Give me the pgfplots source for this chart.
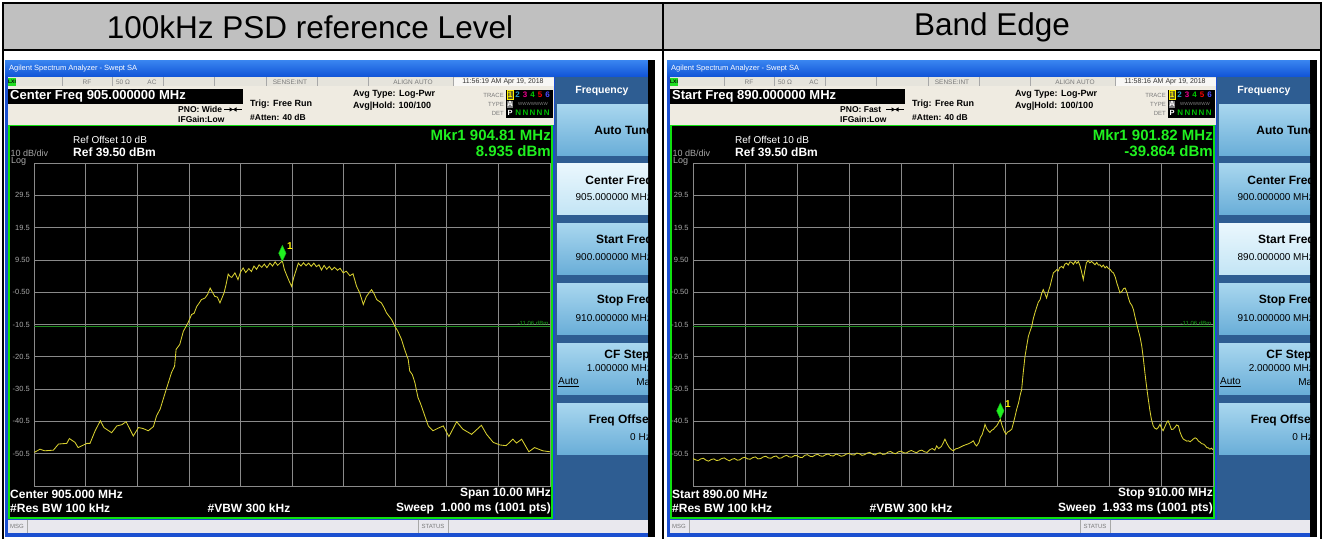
\documentclass[border=0pt]{standalone}
\usepackage{pgfplots}
\pgfplotsset{compat=1.18}
\usepackage{fontspec}
\setmainfont{Liberation Sans}

\definecolor{hdrgray}{HTML}{C0C0C0}
\definecolor{winblue}{HTML}{1B4FD0}
\definecolor{titletop}{HTML}{3A86F0}
\definecolor{titlebot}{HTML}{1256D8}
\definecolor{statgray}{HTML}{E6E4DC}
\definecolor{infobg}{HTML}{EFEBE1}
\definecolor{sepgray}{HTML}{A8A8A8}
\definecolor{txtgray}{HTML}{7A7A7A}
\definecolor{lxgreen}{HTML}{22DD22}
\definecolor{dispgreen}{HTML}{10E010}
\definecolor{mkgreen}{HTML}{20F020}
\definecolor{lblgray}{HTML}{A8A8A8}
\definecolor{gridgray}{HTML}{8A8A8A}
\definecolor{tracey}{HTML}{D8D030}
\definecolor{dline}{HTML}{1E8C1E}
\definecolor{skbg}{HTML}{2E5D92}
\definecolor{sktop}{HTML}{A9D7EF}
\definecolor{skbot}{HTML}{6AAED8}
\definecolor{hitop}{HTML}{EAF7FD}
\definecolor{hibot}{HTML}{C4E5F5}
\definecolor{msgbg}{HTML}{E9E8EE}

\newcommand\fs[1]{\fontsize{#1}{#1}\selectfont}

\tikzset{nkey/.style={top color=sktop,bottom color=skbot},
         hikey/.style={top color=hitop,bottom color=hibot}}

% #1 box text, #2 PNO, #3 time, #4 mkr freq, #5 mkr val, #6 bottom-left, #7 bottom-right, #8 sweep, #9 unused
\newcommand\screen[9]{%
  \fill[winblue] (5,60) rectangle (648,537);
  \shade[top color=titletop,bottom color=titlebot] (5,60) rectangle (648,76);
  \node[anchor=west,text=white,font=\fs{7.5}] at (9,68.5) {Agilent Spectrum Analyzer - Swept SA};
  \fill[black] (648,60) rectangle (655,537);
  % status row
  \fill[statgray] (7.5,77) rectangle (554,86);
  \foreach \sx in {62,112,163,214,266,317,368,453}{\draw[sepgray,line width=0.6pt] (\sx,77)--(\sx,86);}
  \fill[white!70!statgray] (453.5,77.5) rectangle (553.5,86);
  \fill[lxgreen] (8,78) rectangle (16,85.5);
  \node[font=\fs{5}\bfseries] at (12,81.8) {LXI};
  \node[text=txtgray,font=\fs{6.5}] at (87,81.8) {RF};
  \node[text=txtgray,font=\fs{6.5}] at (123,81.8) {50 Ω};
  \node[text=txtgray,font=\fs{6.5}] at (152,81.8) {AC};
  \node[text=txtgray,font=\fs{6.5}] at (290,81.8) {SENSE:INT};
  \node[text=txtgray,font=\fs{6.5}] at (413,81.8) {ALIGN AUTO};
  \node[text=black!80,font=\fs{7}] at (503,81.8) {#3};
  % info area
  \fill[infobg] (7.5,86) rectangle (554,124.5);
  \fill[black] (8,89) rectangle (243,104);
  \node[anchor=west,text=white,font=\fs{13}\bfseries] at (10,96.5) {#1};
  \node[anchor=west,font=\fs{8.5}\bfseries] at (178,109.5) {#2};
  \draw[line width=0.6pt] (224,109.5)--(242,109.5);
  \fill (229.5,107.3)--(233,109.5)--(229.5,111.7)--cycle;
  \fill (236.5,107.3)--(233,109.5)--(236.5,111.7)--cycle;
  \node[anchor=west,font=\fs{8.5}\bfseries] at (178,119) {IFGain:Low};
  \node[anchor=west,font=\fs{9}\bfseries] at (250,104) {Trig: Free Run};
  \node[anchor=west,font=\fs{8.5}\bfseries] at (250,117) {\#Atten: 40 dB};
  \node[anchor=west,font=\fs{9}\bfseries] at (353,94.5) {Avg Type: Log-Pwr};
  \node[anchor=west,font=\fs{9}\bfseries] at (353,106) {Avg\textbar Hold: 100/100};
  % trace box
  \node[anchor=east,text=txtgray,font=\fs{6}] at (504,95) {TRACE};
  \node[anchor=east,text=txtgray,font=\fs{6}] at (504,104) {TYPE};
  \node[anchor=east,text=txtgray,font=\fs{6}] at (504,113) {DET};
  \fill[black] (506,89.5) rectangle (553,118);
  \fill[olive!60!black] (507,90.5) rectangle (513,99.5);
  \draw[yellow,line width=0.5pt] (507,90.5) rectangle (513,99.5);
  \node[text=yellow,font=\fs{8}\bfseries] at (510,95) {1};
  \node[text=cyan!80!black,font=\fs{8}\bfseries] at (517.5,95) {2};
  \node[text=magenta,font=\fs{8}\bfseries] at (525,95) {3};
  \node[text=green!80!black,font=\fs{8}\bfseries] at (532.5,95) {4};
  \node[text=red,font=\fs{8}\bfseries] at (540,95) {5};
  \node[text=blue!70!white,font=\fs{8}\bfseries] at (547.5,95) {6};
  \fill[gray] (507,100.5) rectangle (513,108);
  \node[text=white,font=\fs{7.5}\bfseries] at (510,104.3) {A};
  \node[text=gray,font=\fs{4.5}] at (533,104) {WWWWWWW};
  \node[text=white,font=\fs{7.5}\bfseries] at (510,113) {P};
  \node[text=green!75!black,font=\fs{8}\bfseries] at (532.5,113) {N\,N\,N\,N\,N};
  % display
  \fill[black] (8,124.5) rectangle (553,518.5);
  \draw[dispgreen,line width=1.6pt] (8.8,125.3) rectangle (552.2,517.7);
  \node[anchor=west,text=white,font=\fs{10}] at (73,140) {Ref Offset 10 dB};
  \node[anchor=west,text=white,font=\fs{12}\bfseries] at (73,152.5) {Ref 39.50 dBm};
  \node[anchor=west,text=lblgray,font=\fs{9}] at (10.5,153) {10 dB/div};
  \node[anchor=west,text=lblgray,font=\fs{9}] at (11,161) {Log};
  \node[anchor=east,text=mkgreen,font=\fs{15}\bfseries] at (551,135) {#4};
  \node[anchor=east,text=mkgreen,font=\fs{15}\bfseries] at (551,151) {#5};
  \node[anchor=west,text=white,font=\fs{12}\bfseries] at (10,494) {#6};
  \node[anchor=west,text=white,font=\fs{12}\bfseries] at (10,508.5) {\#Res BW 100 kHz};
  \node[text=white,font=\fs{12}\bfseries] at (249,508.5) {\#VBW 300 kHz};
  \node[anchor=east,text=white,font=\fs{12}\bfseries] at (551,494) {#7};
  \node[anchor=east,text=white,font=\fs{12}\bfseries] at (551,508.5) {#8};
  % msg bar
  \fill[msgbg] (7.5,519.5) rectangle (648,533);
  \draw[sepgray,line width=0.6pt] (27,519.5)--(27,533) (418,519.5)--(418,533) (448,519.5)--(448,533);
  \node[text=txtgray,font=\fs{6}] at (17,526.3) {MSG};
  \node[text=txtgray,font=\fs{6}] at (433,526.3) {STATUS};
  % softkeys
  \fill[skbg] (555,77) rectangle (648,519.5);
  \node[text=white,font=\fs{10.5}\bfseries] at (602,90.5) {Frequency};
  \begin{scope}
    \clip (555,77) rectangle (648,519.5);
    \shade[nkey] (557,104) rectangle (660,155);
    \node[anchor=east,font=\fs{12}\bfseries] at (653,130) {Auto Tune};
    \shade[keyC] (557,163) rectangle (660,214);
    \node[anchor=east,font=\fs{12}\bfseries] at (653,181.5) {Center Freq};
    \node[anchor=east,font=\fs{10}] at (652,197.5) {\vC};
    \shade[keyS] (557,223) rectangle (660,274);
    \node[anchor=east,font=\fs{12}\bfseries] at (653,241) {Start Freq};
    \node[anchor=east,font=\fs{10}] at (652,257.5) {\vS};
    \shade[nkey] (557,283) rectangle (660,334);
    \node[anchor=east,font=\fs{12}\bfseries] at (653,301) {Stop Freq};
    \node[anchor=east,font=\fs{10}] at (652,318) {\vP};
    \shade[nkey] (557,343) rectangle (660,394);
    \node[anchor=east,font=\fs{12}\bfseries] at (650,356) {CF Step};
    \node[anchor=east,font=\fs{10}] at (652,368.5) {\vF};
    \node[anchor=west,font=\fs{10}] at (558,382) {\underline{Auto}};
    \node[anchor=east,font=\fs{10}] at (656,382) {Man};
    \shade[nkey] (557,403) rectangle (660,454);
    \node[anchor=east,font=\fs{12}\bfseries] at (653,420) {Freq Offset};
    \node[anchor=east,font=\fs{10}] at (651,437) {0 Hz};
  \end{scope}
}

\pgfplotsset{
  saaxis/.style={
    anchor=south west, scale only axis, height=323pt,
    ymin=-60.5, ymax=39.5,
    ytick={-50.5,-40.5,-30.5,-20.5,-10.5,-0.5,9.5,19.5,29.5},
    yticklabels={-50.5,-40.5,-30.5,-20.5,-10.5,-0.50,9.50,19.5,29.5},
    xticklabels={},
    grid=major,
    major grid style={gridgray,line width=0.8pt},
    axis line style={gridgray,line width=0.9pt},
    major tick length=0pt,
    yticklabel style={font=\fs{7.5},text=lblgray,xshift=-1pt},
    clip=true,
  },
  trace/.style={tracey,line width=0.85pt,no markers},
  mkr/.style={only marks,mark=diamond*,mark size=8pt,
     mark options={xscale=0.62,yshift=8.5pt,fill=mkgreen,draw=mkgreen!70!black,line width=0.4pt}},
  dl/.style={dline,line width=0.9pt,no markers},
}

\begin{document}
\begin{tikzpicture}
\begin{scope}[x=1pt,y=-1pt,every node/.style={inner sep=0pt}]
  \fill[white] (0,0) rectangle (1324,539);
  \fill[hdrgray] (3,3) rectangle (1321,49.5);
  \draw[black,line width=2pt] (3,3)--(1321,3) (3,49.5)--(1321,49.5);
  \draw[black,line width=2pt] (3,2)--(3,539) (663,2)--(663,539) (1321,2)--(1321,539);
  \node[font=\fs{31.5}] at (310,27) {100kHz PSD reference Level};
  \node[font=\fs{31.5}] at (992,27) {Band Edge};
  % left screen
  \tikzset{keyC/.style=hikey,keyS/.style=nkey}
  \def\vC{905.000000 MHz}\def\vS{900.000000 MHz}\def\vP{910.000000 MHz}\def\vF{1.000000 MHz}
  \screen{Center Freq 905.000000 MHz}{PNO: Wide}{11:56:19 AM Apr 19, 2018}{Mkr1 904.81 MHz}{8.935 dBm}{Center 905.000 MHz}{Span 10.00 MHz}{Sweep\ \ 1.000 ms (1001 pts)}{}
\end{scope}
\begin{scope}[x=1pt,y=-1pt,xshift=662pt,every node/.style={inner sep=0pt}]
  \tikzset{keyC/.style=nkey,keyS/.style=hikey}
  \def\vC{900.000000 MHz}\def\vS{890.000000 MHz}\def\vP{910.000000 MHz}\def\vF{2.000000 MHz}
  \screen{Start Freq 890.000000 MHz}{PNO: Fast}{11:58:16 AM Apr 19, 2018}{Mkr1 901.82 MHz}{-39.864 dBm}{Start 890.00 MHz}{Stop 910.00 MHz}{Sweep\ \ 1.933 ms (1001 pts)}{}
\end{scope}

% ---------- left analyzer trace ----------
\begin{axis}[saaxis, at={(34.3pt,-486pt)}, width=515.7pt,
  xmin=900, xmax=910, xtick={900,901,...,910}]
\addplot[dl] coordinates {(900,-11.06) (910,-11.06)};
\node[anchor=south east,text=dline!80!green,font=\fs{6},inner sep=0.5pt] at (axis cs:909.98,-11.06) {-11.06 dBm};
\addplot[trace] coordinates {
(900.00,-50.1) (900.11,-49.1) (900.20,-49.6) (900.37,-49.4) (900.47,-47.5) (900.63,-47.3)
(900.68,-45.8) (900.79,-47.0) (900.85,-48.6) (901.02,-47.3) (901.08,-47.3) (901.18,-43.4)
(901.28,-40.3) (901.35,-42.4) (901.50,-44.0) (901.60,-41.9) (901.70,-41.5) (901.78,-40.6)
(901.92,-45.0) (902.02,-42.4) (902.11,-42.7) (902.21,-43.4) (902.31,-42.1) (902.37,-38.8)
(902.44,-36.7) (902.50,-33.6) (902.55,-31.0) (902.60,-28.5) (902.66,-25.4) (902.72,-23.4)
(902.75,-18.2) (902.82,-16.7) (902.89,-12.6) (902.98,-10.0) (903.05,-7.4) (903.10,-7.0)
(903.15,-4.9) (903.20,-3.8) (903.24,-2.8) (903.31,-2.3) (903.36,-1.2) (903.41,0.8)
(903.45,-0.4) (903.50,-1.8) (903.55,-2.0) (903.60,-3.8) (903.68,-0.7) (903.72,2.0)
(903.76,5.1) (903.80,4.3) (903.83,4.1) (903.89,5.5) (903.95,3.4) (904.00,5.8)
(904.05,7.0) (904.10,5.6) (904.16,6.8) (904.21,5.9) (904.26,7.6) (904.31,6.6)
(904.36,8.0) (904.41,7.2) (904.46,8.2) (904.51,7.1) (904.57,8.5) (904.62,7.6)
(904.67,8.9) (904.72,7.8) (904.77,8.6) (904.81,9.2) (904.85,6.5) (904.89,4.9)
(904.94,3.0) (904.99,1.3) (905.03,4.0) (905.08,6.5) (905.12,8.5) (905.17,7.6)
(905.22,8.6) (905.27,7.7) (905.32,8.5) (905.37,7.5) (905.42,8.5) (905.47,7.4)
(905.52,8.0) (905.57,6.4) (905.62,7.8) (905.67,6.6) (905.72,7.5) (905.77,6.4)
(905.82,7.2) (905.88,6.3) (905.93,6.9) (905.99,5.5) (906.05,6.0) (906.12,4.6)
(906.18,5.2) (906.25,1.3) (906.31,-0.7) (906.38,-4.3) (906.44,-1.8) (906.54,0.3)
(906.59,-1.0) (906.64,-2.8) (906.73,-3.8) (906.78,-5.2) (906.83,-6.9) (906.93,-9.0)
(906.99,-11.0) (907.05,-12.6) (907.12,-15.1) (907.18,-18.2) (907.25,-21.3) (907.28,-24.9)
(907.33,-26.0) (907.38,-28.5) (907.44,-33.1) (907.49,-35.0) (907.54,-37.3) (907.64,-41.9)
(907.73,-43.4) (907.83,-42.6) (907.93,-41.9) (908.04,-45.2) (908.19,-40.6) (908.31,-42.9)
(908.48,-44.5) (908.67,-41.7) (908.77,-44.5) (908.90,-47.0) (909.03,-47.8) (909.15,-48.0)
(909.28,-46.0) (909.35,-47.2) (909.45,-46.0) (909.59,-49.9) (909.70,-48.6) (909.86,-49.6)
(910.00,-49.9)};
\addplot[mkr] coordinates {(904.81,8.935)};
\node[anchor=south west,text=yellow,font=\fs{10}\bfseries,inner sep=0pt] at (axis cs:904.81,8.935) [xshift=4.5pt,yshift=12pt] {1};
\end{axis}

% ---------- right analyzer trace ----------
\begin{axis}[saaxis, at={(693pt,-486pt)}, width=520pt,
  xmin=890, xmax=910, xtick={890,892,...,910}]
\addplot[dl] coordinates {(890,-11.06) (910,-11.06)};
\node[anchor=south east,text=dline!80!green,font=\fs{6},inner sep=0.5pt] at (axis cs:909.96,-11.06) {-11.06 dBm};
\addplot[trace] coordinates {
(890.0,-52.0) (890.1,-52.4) (890.2,-52.6) (890.3,-52.1) (890.4,-51.9) (890.5,-52.5) (890.6,-52.8)
(890.7,-52.3) (890.8,-52.1) (890.9,-52.6) (891.0,-52.5) (891.1,-52.0) (891.2,-51.8) (891.3,-52.3)
(891.4,-52.7) (891.5,-52.2) (891.6,-52.0) (891.7,-52.5) (891.8,-52.4) (891.9,-51.8) (892.0,-51.6)
(892.1,-52.1) (892.2,-52.2) (892.3,-51.7) (892.4,-51.5) (892.5,-52.1) (892.6,-52.0) (892.7,-51.5)
(892.8,-51.3) (892.9,-51.8) (893.0,-51.9) (893.1,-51.4) (893.2,-51.2) (893.3,-51.9) (893.4,-51.8)
(893.5,-51.3) (893.6,-51.0) (893.7,-51.5) (893.8,-51.6) (893.9,-51.1) (894.0,-51.1) (894.1,-51.6)
(894.2,-51.7) (894.3,-51.0) (894.4,-50.8) (894.5,-51.3) (894.6,-51.4) (894.7,-50.9) (894.8,-50.7)
(894.9,-51.2) (895.0,-51.3) (895.1,-50.8) (895.2,-50.6) (895.3,-51.1) (895.4,-51.2) (895.5,-50.6)
(895.6,-50.9) (895.7,-51.3) (895.8,-51.1) (895.9,-50.6) (896.0,-50.4) (896.1,-50.8) (896.2,-50.9)
(896.3,-50.3) (896.4,-50.5) (896.5,-51.0) (896.6,-50.8) (896.7,-50.3) (896.8,-50.1) (896.9,-50.6)
(897.0,-50.9) (897.1,-50.4) (897.2,-50.2) (897.3,-50.7) (897.4,-50.6) (897.5,-50.0) (897.6,-49.8)
(897.7,-50.3) (897.8,-50.5) (897.9,-49.9) (898.0,-49.7) (898.1,-50.2) (898.2,-50.3) (898.3,-49.8)
(898.4,-49.5) (898.5,-49.9) (898.6,-50.2) (898.7,-49.6) (898.8,-49.4) (898.9,-49.9) (899.0,-50.1)
(899.1,-49.3) (899.2,-48.9) (899.3,-49.4) (899.37,-48.1) (899.45,-48.9) (899.55,-48.3) (899.62,-47.2)
(899.69,-46.0) (899.77,-47.4) (899.85,-48.5) (899.93,-49.2) (900.01,-49.6) (900.1,-49.0) (900.2,-48.8)
(900.3,-48.4) (900.4,-48.0) (900.5,-47.7) (900.6,-47.4) (900.7,-47.0) (900.78,-46.5) (900.85,-47.6)
(900.91,-48.1) (901.0,-47.0) (901.05,-45.5) (901.12,-44.6) (901.18,-43.0) (901.23,-41.4) (901.30,-42.8)
(901.36,-43.4) (901.42,-43.9) (901.49,-43.2) (901.55,-43.0) (901.62,-42.3) (901.68,-41.9) (901.75,-40.9)
(901.82,-39.864) (901.88,-41.6) (901.96,-43.4) (902.04,-44.5) (902.10,-43.8) (902.15,-43.6) (902.20,-43.3)
(902.26,-42.9) (902.33,-40.8) (902.39,-38.8) (902.45,-36.7) (902.52,-34.8) (902.58,-32.5) (902.64,-30.6)
(902.70,-25.5) (902.77,-20.3) (902.84,-16.9) (902.90,-14.1) (902.97,-12.4) (903.03,-11.0) (903.09,-8.6)
(903.15,-6.9) (903.22,-5.1) (903.28,-3.6) (903.35,-2.8) (903.41,-0.9) (903.47,0.3) (903.53,-0.8)
(903.60,-2.3) (903.66,-0.4) (903.73,1.3) (903.79,3.2) (903.86,5.5) (903.92,5.9) (903.99,6.5)
(904.05,6.1) (904.10,7.1) (904.18,7.5) (904.24,7.0) (904.30,8.2) (904.37,8.5) (904.43,7.9)
(904.50,8.9) (904.57,8.7) (904.63,8.1) (904.70,9.1) (904.76,8.4) (904.82,9.0) (904.88,7.8)
(904.94,6.0) (905.01,3.4) (905.07,6.2) (905.13,8.6) (905.20,9.3) (905.26,8.6) (905.33,9.0)
(905.40,8.5) (905.46,8.0) (905.53,8.7) (905.59,7.9) (905.65,8.0) (905.72,7.3) (905.78,7.9)
(905.85,7.0) (905.91,7.5) (905.98,6.8) (906.05,6.5) (906.11,5.8) (906.17,5.5) (906.24,4.2)
(906.30,2.4) (906.36,0.9) (906.42,-0.7) (906.50,-0.2) (906.56,0.6) (906.62,0.8) (906.69,-0.6)
(906.75,-2.4) (906.81,-3.8) (906.88,-4.6) (906.94,-5.9) (907.00,-8.1) (907.07,-10.5) (907.13,-12.4)
(907.20,-14.6) (907.26,-17.2) (907.32,-21.0) (907.38,-25.4) (907.44,-29.4) (907.51,-33.6) (907.57,-37.0)
(907.63,-39.8) (907.70,-41.9) (907.76,-42.6) (907.83,-42.9) (907.90,-42.3) (907.96,-41.4) (908.02,-42.6)
(908.08,-43.4) (908.15,-42.1) (908.21,-41.0) (908.27,-40.3) (908.34,-41.6) (908.40,-43.0) (908.47,-42.9)
(908.54,-42.3) (908.60,-41.6) (908.67,-41.9) (908.73,-43.8) (908.80,-45.2) (908.86,-46.0) (908.93,-46.3)
(908.99,-46.6) (909.06,-46.5) (909.12,-46.8) (909.18,-46.4) (909.25,-45.9) (909.31,-45.6) (909.37,-45.8)
(909.44,-46.6) (909.50,-46.9) (909.56,-47.4) (909.63,-47.5) (909.69,-47.9) (909.76,-48.6) (909.82,-48.7)
(909.88,-49.1) (909.94,-48.8) (910.00,-49.3)};
\addplot[mkr] coordinates {(901.82,-39.864)};
\node[anchor=south west,text=yellow,font=\fs{10}\bfseries,inner sep=0pt] at (axis cs:901.82,-39.864) [xshift=4.5pt,yshift=12pt] {1};
\end{axis}

\pgfresetboundingbox
\path[use as bounding box] (0pt,0pt) rectangle (1324pt,-539pt);
\end{tikzpicture}
\end{document}
